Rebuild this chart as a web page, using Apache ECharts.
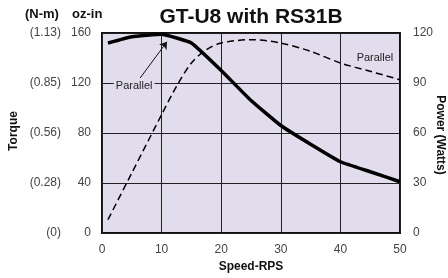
<!DOCTYPE html>
<html>
<head>
<meta charset="utf-8">
<script src="https://cdn.jsdelivr.net/npm/echarts@6/dist/echarts.min.js"></script>
<style>
  html, body { margin: 0; padding: 0; background: #fff; }
  #chart { width: 448px; height: 278px; }
</style>
</head>
<body>
<div id="chart"></div>
<script>
// torque (oz-in) and power (W) vs speed (RPS)
const torqueData = [[1, 152], [5, 157], [10, 159], [15, 152], [20, 130], [25, 106], [30, 86], [35, 71], [40, 57], [45, 49], [50, 41]]
const powerData = [[1, 8], [5, 36], [10, 71], [12.5, 88], [15, 102], [17.5, 110], [20, 114], [25, 116], [30, 114], [35, 109], [40, 102], [45, 97], [50, 92]]
const torqueTicks = [0, 40, 80, 120, 160]
const nmLabels = ['(0)', '(0.28)', '(0.56)', '(0.85)', '(1.13)']

const FONT = 'Liberation Sans, Arial, sans-serif'
const PLOT_BG = '#e1ddec'

const chart = echarts.init(document.getElementById('chart'))

chart.setOption({
  animation: false,
  backgroundColor: '#fff',
  textStyle: { fontFamily: FONT },
  graphic: [
    { type: 'text', x: 251, y: 17,
      style: { text: 'GT-U8 with RS31B', font: 'bold 21px ' + FONT, fill: '#111', align: 'center', verticalAlign: 'middle' } },
    { type: 'text', left: 25, top: 8, style: { text: '(N-m)', font: 'bold 13px ' + FONT, fill: '#111' } },
    { type: 'text', left: 72, top: 8, style: { text: 'oz-in', font: 'bold 13px ' + FONT, fill: '#111' } },
    { type: 'text', x: 14, y: 131, rotation: Math.PI / 2,
      style: { text: 'Torque', font: 'bold 12px ' + FONT, fill: '#111', align: 'center', verticalAlign: 'middle' } },
    { type: 'text', x: 440, y: 135, rotation: -Math.PI / 2,
      style: { text: 'Power (Watts)', font: 'bold 12px ' + FONT, fill: '#111', align: 'center', verticalAlign: 'middle' } },
  ],
  grid: {
    left: 102, right: 48, top: 33, bottom: 45,
    show: true, backgroundColor: PLOT_BG, borderColor: '#111', borderWidth: 2,
  },
  xAxis: {
    type: 'value', min: 0, max: 50, interval: 10,
    name: 'Speed-RPS', nameLocation: 'middle', nameGap: 23,
    nameTextStyle: { fontFamily: FONT, fontSize: 12, fontWeight: 'bold', color: '#111' },
    axisLine: { show: false }, axisTick: { show: false },
    axisLabel: { color: '#444', fontSize: 12, margin: 11 },
    splitLine: { lineStyle: { color: '#222', width: 1 } },
  },
  yAxis: [
    {
      type: 'value', min: 0, max: 160, interval: 40,
      axisLine: { show: false }, axisTick: { show: false },
      axisLabel: {
        margin: 11,
        formatter: v => `{n|${nmLabels[torqueTicks.indexOf(v)]}}{v|${v}}`,
        rich: {
          n: { width: 40, align: 'right', color: '#444', fontSize: 12, fontFamily: FONT },
          v: { width: 30, align: 'right', color: '#444', fontSize: 12, fontFamily: FONT },
        },
      },
      splitLine: { lineStyle: { color: '#222', width: 1 } },
    },
    {
      type: 'value', min: 0, max: 120, interval: 30, position: 'right',
      axisLine: { show: false }, axisTick: { show: false },
      axisLabel: { color: '#444', fontSize: 12, margin: 13 },
      splitLine: { show: false },
    },
  ],
  series: [
    {
      name: 'Torque', type: 'line', yAxisIndex: 0, data: torqueData,
      showSymbol: false, smooth: 0.1,
      lineStyle: { color: '#000', width: 3.5 },
      markLine: {
        silent: true, symbol: ['none', 'arrow'], symbolSize: 7,
        lineStyle: { color: '#111', width: 1, type: 'solid' },
        label: { show: false },
        data: [[{ coord: [6.4, 124] }, { coord: [10.9, 153] }]],
      },
      markPoint: {
        symbol: 'rect', symbolSize: 1, itemStyle: { color: 'rgba(0,0,0,0)' },
        label: {
          show: true, position: 'inside', formatter: 'Parallel',
          color: '#222', fontSize: 11, fontFamily: FONT,
          backgroundColor: PLOT_BG, padding: [1, 2],
        },
        data: [{ coord: [5.4, 118] }],
      },
    },
    {
      name: 'Power', type: 'line', yAxisIndex: 1, data: powerData,
      showSymbol: false, smooth: 0.3,
      lineStyle: { color: '#000', width: 1.5, type: [7, 4] },
      markPoint: {
        symbol: 'rect', symbolSize: 1, itemStyle: { color: 'rgba(0,0,0,0)' },
        label: {
          show: true, position: 'inside', formatter: 'Parallel',
          color: '#222', fontSize: 11, fontFamily: FONT,
        },
        data: [{ coord: [45.8, 105] }],
      },
    },
  ],
})
</script>
</body>
</html>
